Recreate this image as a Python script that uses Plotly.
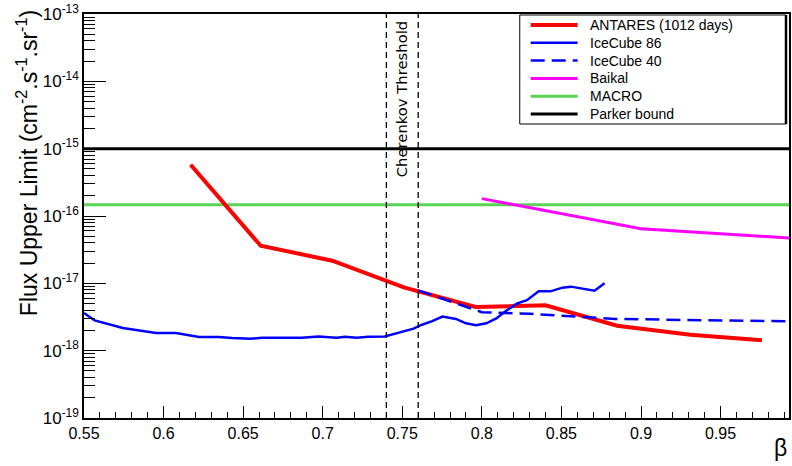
import plotly.graph_objects as go

# ---- data -----------------------------------------------------------------
beta_antares = [0.617, 0.661, 0.706, 0.751, 0.796, 0.840, 0.885, 0.931, 0.976]
flux_antares = [5.78e-16, 3.62e-17, 2.17e-17, 8.73e-18, 4.45e-18, 4.72e-18,
                2.35e-18, 1.73e-18, 1.43e-18]

beta_ic86 = [0.550, 0.5567, 0.5744, 0.5817, 0.5953, 0.6078, 0.6223, 0.6348,
             0.6431, 0.6546, 0.6619, 0.6869, 0.6973, 0.7088, 0.7140, 0.7213,
             0.7286, 0.7390, 0.7497, 0.7571, 0.7624, 0.7688, 0.7752, 0.7837,
             0.7900, 0.7964, 0.8028, 0.8091, 0.8144, 0.8219, 0.8283, 0.8357,
             0.8431, 0.8506, 0.8559, 0.8633, 0.8708, 0.8771]
flux_ic86 = [3.62e-18, 2.81e-18, 2.17e-18, 2.05e-18, 1.83e-18, 1.83e-18,
             1.60e-18, 1.60e-18, 1.54e-18, 1.50e-18, 1.56e-18, 1.56e-18,
             1.63e-18, 1.56e-18, 1.61e-18, 1.56e-18, 1.61e-18, 1.63e-18,
             1.89e-18, 2.12e-18, 2.43e-18, 2.74e-18, 3.21e-18, 2.96e-18,
             2.55e-18, 2.38e-18, 2.55e-18, 3.01e-18, 3.79e-18, 5.00e-18,
             5.61e-18, 7.60e-18, 7.60e-18, 8.63e-18, 8.93e-18, 8.43e-18,
             7.76e-18, 1.00e-17]

beta_ic40 = [0.760, 0.800, 0.830, 0.862, 0.884, 0.940, 1.000]
flux_ic40 = [7.87e-18, 3.73e-18, 3.52e-18, 3.14e-18, 2.96e-18, 2.83e-18, 2.72e-18]

beta_baikal = [0.800, 0.900, 1.000]
flux_baikal = [1.81e-16, 6.49e-17, 4.60e-17]

beta_full = [0.55, 1.0]
flux_macro = [1.47e-16, 1.47e-16]
flux_parker = [1e-15, 1e-15]

cherenkov_beta = [0.74, 0.76]

x_tickvals = [0.55, 0.60, 0.65, 0.70, 0.75, 0.80, 0.85, 0.90, 0.95]
x_ticktext = ["0.55", "0.6", "0.65", "0.7", "0.75", "0.8", "0.85", "0.9", "0.95"]
y_exponents = [-19, -18, -17, -16, -15, -14, -13]

# ---- styling --------------------------------------------------------------
FONT = "Liberation Sans, Arial, Helvetica, sans-serif"
RED, BLUE, MAGENTA, GREEN, BLACK = "#ff0000", "#0000ff", "#ff00ff", "#59d454", "#000000"

W, H = 792, 466
L, R, T, B = 84, 1, 14, 48
PW, PH = W - L - R, H - T - B


def px_x(px):
    return (px - L) / PW


def px_y(py):
    return 1 - (py - T) / PH


series = [
    dict(name="MACRO", x=beta_full, y=flux_macro, color=GREEN, width=3, dash="solid"),
    dict(name="Parker bound", x=beta_full, y=flux_parker, color=BLACK, width=3, dash="solid"),
    dict(name="Baikal", x=beta_baikal, y=flux_baikal, color=MAGENTA, width=3, dash="solid"),
    dict(name="ANTARES (1012 days)", x=beta_antares, y=flux_antares, color=RED, width=4, dash="solid"),
    dict(name="IceCube 86", x=beta_ic86, y=flux_ic86, color=BLUE, width=2.5, dash="solid"),
    dict(name="IceCube 40", x=beta_ic40, y=flux_ic40, color=BLUE, width=2.5, dash="14px,7px"),
]

fig = go.Figure()
for s in series:
    fig.add_trace(go.Scatter(x=s["x"], y=s["y"], mode="lines", name=s["name"],
                             line=dict(color=s["color"], width=s["width"], dash=s["dash"]),
                             showlegend=False))

# Cherenkov threshold markers
for b in cherenkov_beta:
    fig.add_shape(type="line", xref="x", yref="y domain", x0=b, x1=b, y0=0, y1=1,
                  line=dict(color="black", width=1.3, dash="6px,4px"))

annotations = [
    dict(text="Cherenkov Threshold", x=sum(cherenkov_beta) / 2, xref="x",
         y=px_y(99), yref="paper", textangle=-90, showarrow=False,
         xanchor="center", yanchor="middle",
         font=dict(family="DejaVu Sans, sans-serif", size=14.8, color="black")),
    dict(text="Flux Upper Limit (cm<sup>-2</sup>.s<sup>-1</sup>.sr<sup>-1</sup>)",
         x=px_x(27), xref="paper", y=px_y(163), yref="paper", textangle=-90,
         showarrow=False, xanchor="center", yanchor="middle",
         font=dict(family=FONT, size=23, color="black")),
    dict(text="β", x=1, xref="paper", y=px_y(448), yref="paper", showarrow=False,
         xanchor="right", yanchor="middle", font=dict(family=FONT, size=23, color="black")),
]

# legend box
leg_x0, leg_x1, leg_y0, leg_y1 = 521, 788, 15, 124
fig.add_shape(type="rect", xref="paper", yref="paper",
              x0=px_x(leg_x0), x1=px_x(leg_x1), y0=px_y(leg_y1), y1=px_y(leg_y0),
              line=dict(color="black", width=1), fillcolor="white", layer="above")
fig.add_shape(type="line", xref="paper", yref="paper",
              x0=px_x(leg_x1), x1=px_x(leg_x1), y0=px_y(leg_y1), y1=px_y(leg_y0),
              line=dict(color="black", width=2.5), layer="above")

legend_order = ["ANTARES (1012 days)", "IceCube 86", "IceCube 40", "Baikal",
                "MACRO", "Parker bound"]
by_name = {s["name"]: s for s in series}
for i, name in enumerate(legend_order):
    s = by_name[name]
    row_y = px_y(25 + i * 17.8)
    fig.add_shape(type="line", xref="paper", yref="paper",
                  x0=px_x(532), x1=px_x(579), y0=row_y, y1=row_y,
                  line=dict(color=s["color"], width=s["width"], dash=s["dash"]),
                  layer="above")
    annotations.append(dict(text=name, x=px_x(589), xref="paper", y=row_y, yref="paper",
                            showarrow=False, xanchor="left", yanchor="middle",
                            font=dict(family=FONT, size=14, color="black")))

fig.update_layout(
    width=W, height=H,
    margin=dict(l=L, r=R, t=T, b=B),
    paper_bgcolor="white", plot_bgcolor="white",
    showlegend=False,
    annotations=annotations,
    font=dict(family=FONT, color="black"),
)

fig.update_xaxes(
    range=[0.55, 0.993], showgrid=False, zeroline=False,
    showline=True, linecolor="black", linewidth=1.5, mirror=True,
    ticks="inside", ticklen=12, tickwidth=1, tickcolor="black",
    tickvals=x_tickvals, ticktext=x_ticktext,
    tickfont=dict(family=FONT, size=16, color="black"),
    minor=dict(ticks="inside", ticklen=6, tickwidth=1, tickcolor="black",
               dtick=0.01, tick0=0.55, showgrid=False),
)

fig.update_yaxes(
    type="log", range=[-19, -13], showgrid=False, zeroline=False,
    showline=True, linecolor="black", linewidth=1.5, mirror=True,
    ticks="inside", ticklen=22, tickwidth=1, tickcolor="black",
    tickvals=[10.0 ** e for e in y_exponents],
    ticktext=[f"10<sup>{e}</sup>" for e in y_exponents],
    tickfont=dict(family=FONT, size=17, color="black"),
    minor=dict(ticks="inside", ticklen=11, tickwidth=1, tickcolor="black",
               dtick="D1", showgrid=False),
)

fig.write_html("out.html")
